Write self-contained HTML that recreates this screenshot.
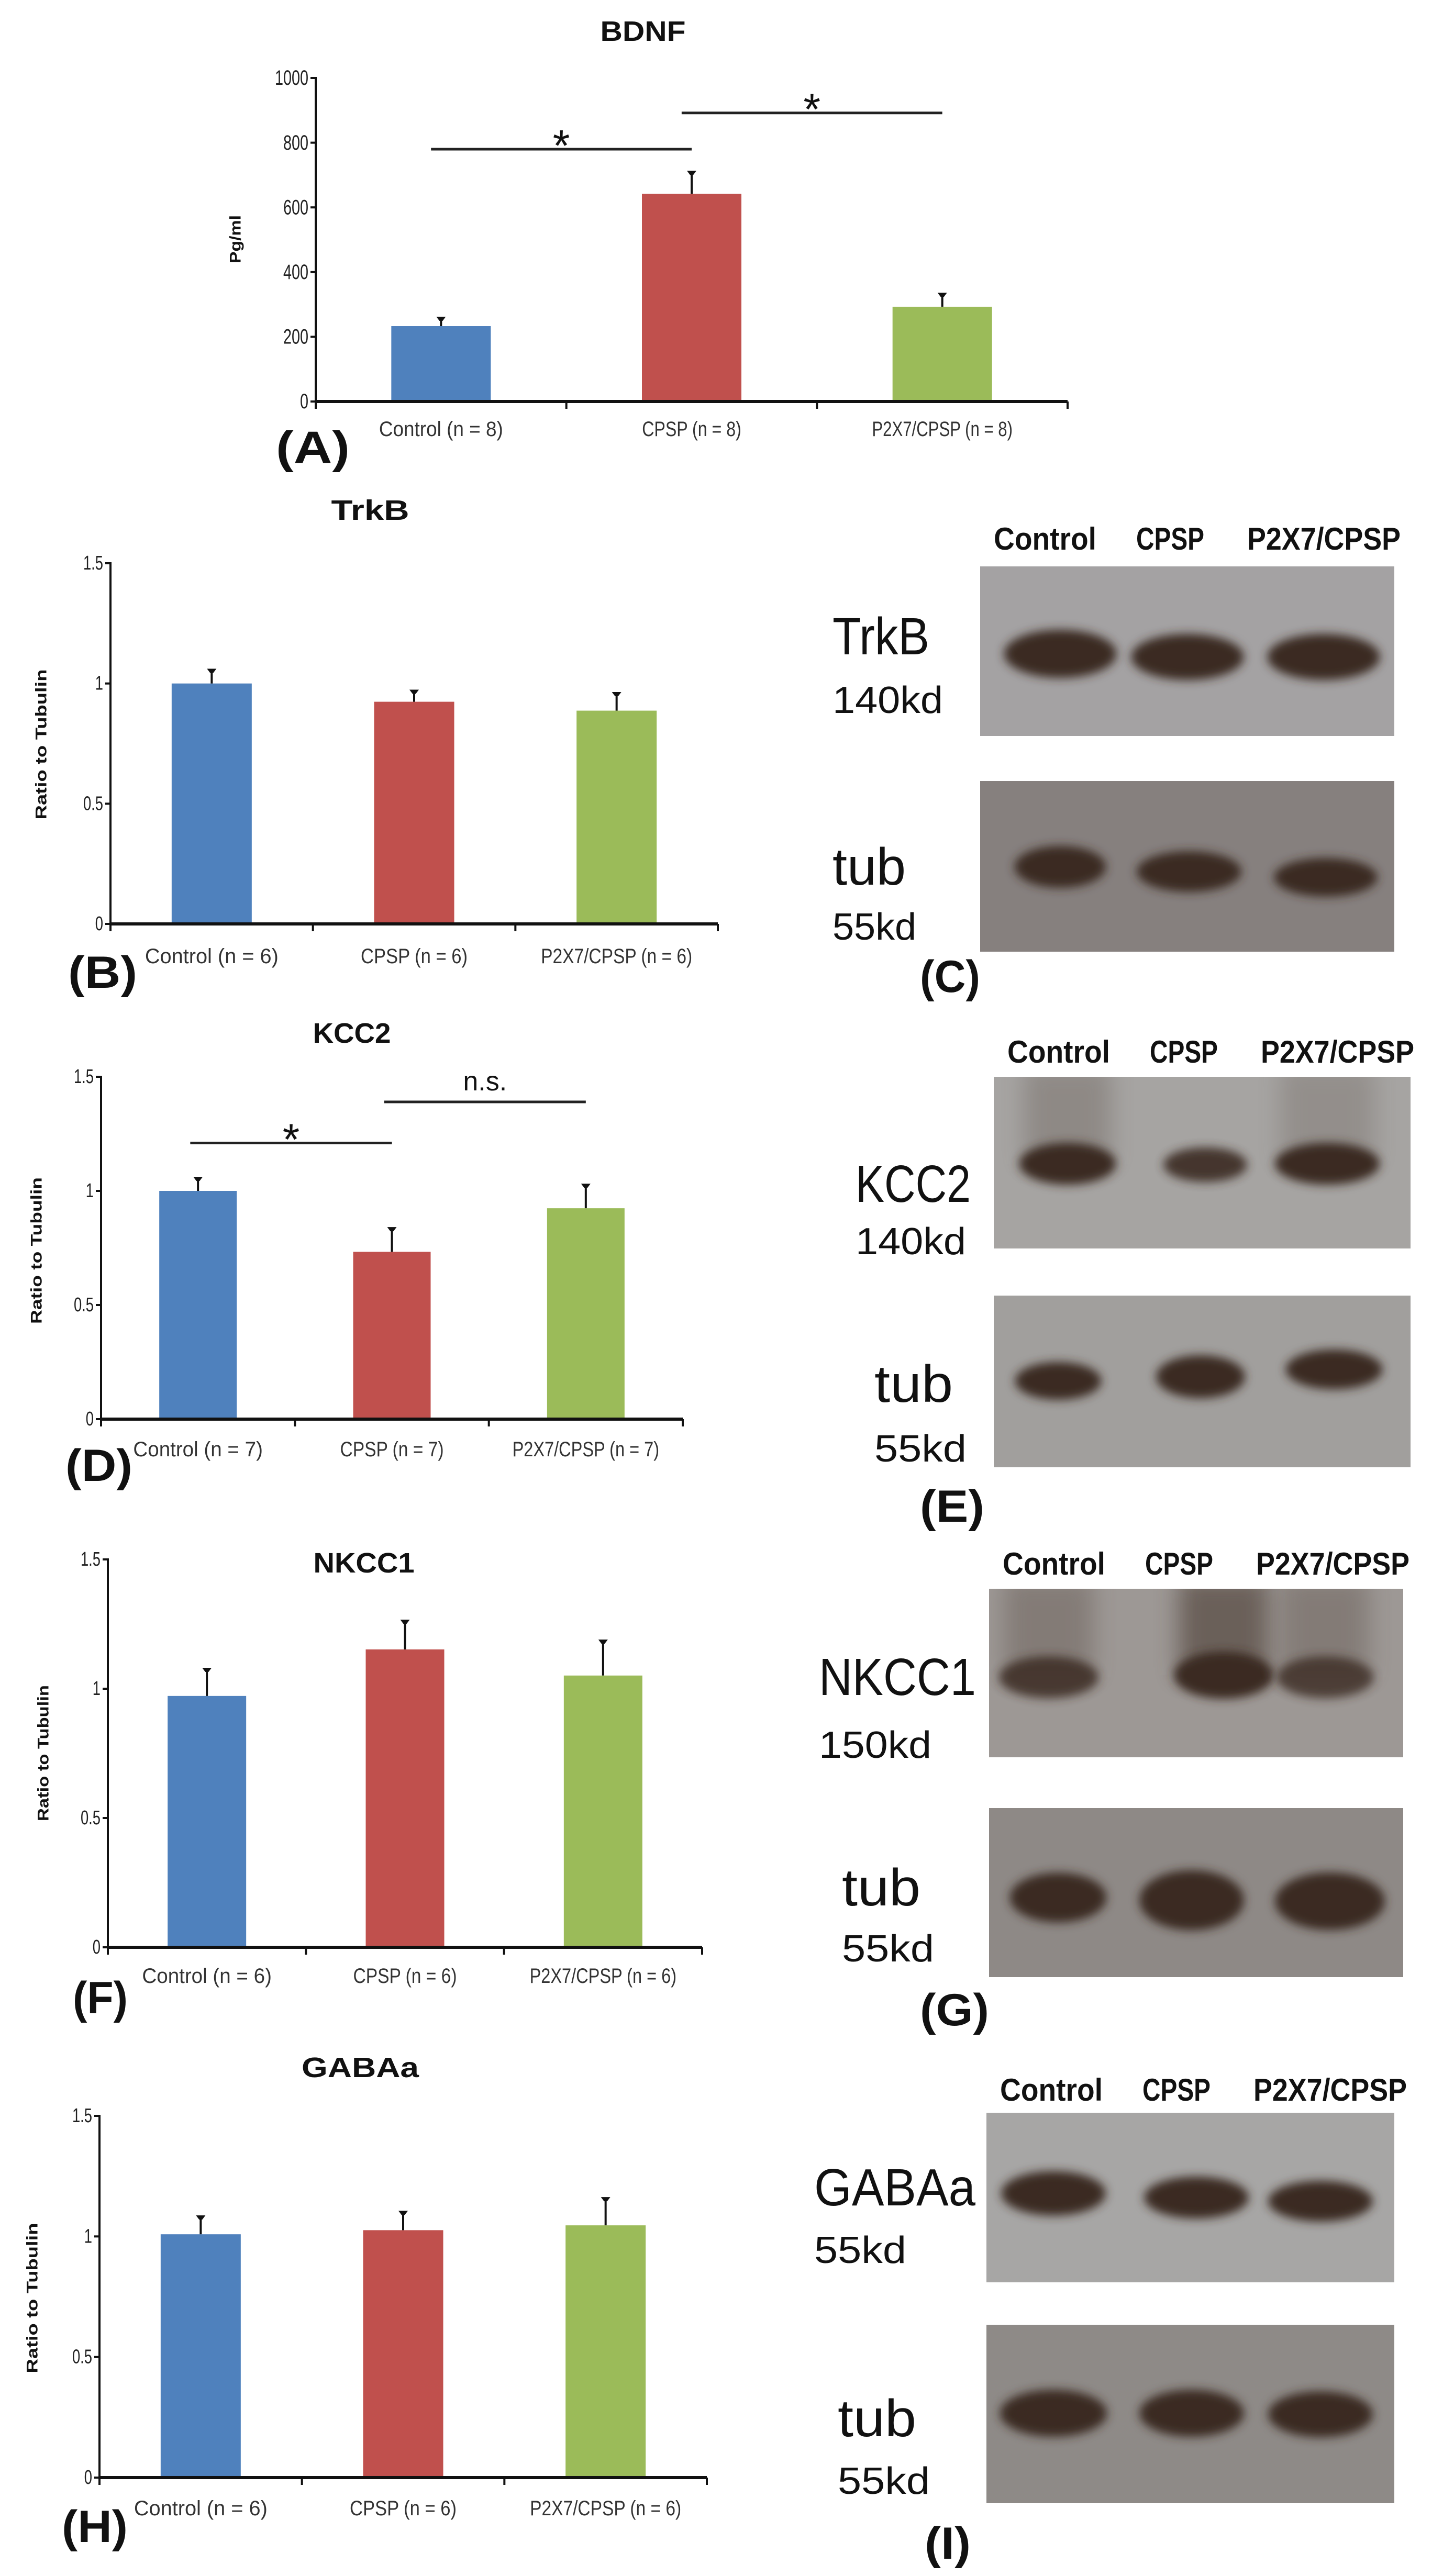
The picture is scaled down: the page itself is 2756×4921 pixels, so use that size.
<!DOCTYPE html>
<html><head><meta charset="utf-8">
<style>
html,body{margin:0;padding:0;background:#fff;}
svg{display:block;}
text{font-family:"Liberation Sans",sans-serif;}
</style></head>
<body>
<svg id="fig" xmlns="http://www.w3.org/2000/svg" width="2756" height="4921" viewBox="0 0 2756 4921">
<defs>
<filter id="blur1" x="-30%" y="-60%" width="160%" height="220%"><feGaussianBlur stdDeviation="9"/></filter>
<filter id="blur2" x="-30%" y="-60%" width="160%" height="220%"><feGaussianBlur stdDeviation="22"/></filter>
</defs>
<rect x="0" y="0" width="2756" height="4921" fill="#ffffff"/>
<g id="charts"></g>
<g id="blots"></g>
</svg>
<script>
// ---------- chart data ----------
const catsA = ["Control (n = 8)", "CPSP (n = 8)", "P2X7/CPSP (n = 8)"];
const valsA = [233, 642, 293];
const errsA = [26, 68, 40];
const ticksA = ["0", "200", "400", "600", "800", "1000"];

const catsB = ["Control (n = 6)", "CPSP (n = 6)", "P2X7/CPSP (n = 6)"];
const valsB = [1.0, 0.924, 0.887];
const errsB = [0.057, 0.046, 0.073];

const catsD = ["Control (n = 7)", "CPSP (n = 7)", "P2X7/CPSP (n = 7)"];
const valsD = [1.0, 0.733, 0.924];
const errsD = [0.057, 0.104, 0.103];

const catsF = ["Control (n = 6)", "CPSP (n = 6)", "P2X7/CPSP (n = 6)"];
const valsF = [0.972, 1.152, 1.051];
const errsF = [0.105, 0.111, 0.135];

const catsH = ["Control (n = 6)", "CPSP (n = 6)", "P2X7/CPSP (n = 6)"];
const valsH = [1.009, 1.026, 1.046];
const errsH = [0.074, 0.076, 0.113];

const ticksRatio = ["0", "0.5", "1", "1.5"];
const colors = ["#4f81bd", "#c0504d", "#9bbb59"];

const NS = "http://www.w3.org/2000/svg";
function mk(tag, attrs, parent) {
  const e = document.createElementNS(NS, tag);
  for (const k in attrs) e.setAttribute(k, attrs[k]);
  parent.appendChild(e);
  return e;
}
function txt(str, attrs, parent) {
  const e = mk("text", attrs, parent);
  e.textContent = str;
  return e;
}

const charts = document.getElementById("charts");

function drawChart(cfg) {
  const g = mk("g", {}, charts);
  
  
  const yMaxVal = parseFloat(cfg.ticks[cfg.ticks.length - 1]);
  const yScale = v => cfg.y0 - (v / yMaxVal) * (cfg.y0 - cfg.yTop);
  const n = cfg.cats.length;
  const cw = (cfg.x1 - cfg.x0) / n;
  const xCenter = i => cfg.x0 + cw * (i + 0.5);

  const t = txt(cfg.title, {x: cfg.titleX, y: cfg.titleY, "font-size": 54, "font-weight": "bold", "text-anchor": "middle", "dominant-baseline": "central", textLength: cfg.titleW, lengthAdjust: "spacingAndGlyphs", fill: "#111"}, g);
  
  

  const ya = mk("line", {x1: cfg.x0, y1: cfg.yTop - 2, x2: cfg.x0, y2: cfg.y0 + 14, stroke: "#111", "stroke-width": 4}, g);
  
  
  cfg.ticks.forEach((tk, i) => {
    const v = parseFloat(tk);
    const y = yScale(v);
    mk("line", {x1: cfg.x0 - 10, y1: y, x2: cfg.x0, y2: y, stroke: "#111", "stroke-width": 4}, g);
    const tl = txt(tk, {x: cfg.x0 - 14, y: y, "font-size": cfg.tickFont, "text-anchor": "end", "dominant-baseline": "central", fill: "#222", transform: `translate(${cfg.x0 - 14},0) scale(0.72,1) translate(${-(cfg.x0 - 14)},0)`}, g);
    
    
  });
  const yt = txt(cfg.yTitle, {x: cfg.yTitleX, y: cfg.yTitleY, "font-size": 30, "font-weight": "bold", "text-anchor": "middle", "dominant-baseline": "central", fill: "#111", transform: `rotate(-90 ${cfg.yTitleX} ${cfg.yTitleY})`, textLength: cfg.yTitleW, lengthAdjust: "spacingAndGlyphs"}, g);
  
  

  cfg.vals.forEach((v, i) => {
    const cx = xCenter(i);
    const yv = yScale(v);
    const b = mk("rect", {x: cx - cfg.bw / 2, y: yv, width: cfg.bw, height: cfg.y0 - yv, fill: colors[i]}, g);
    
    
    const ye = yScale(v + cfg.errs[i]);
    const e1 = mk("line", {x1: cx, y1: yv, x2: cx, y2: ye, stroke: "#111", "stroke-width": 4}, g);
    
    
    mk("path", {d: `M${cx - 9} ${ye - 2} L${cx + 9} ${ye - 2} L${cx + 3} ${ye + 6} L${cx - 3} ${ye + 6} Z`, fill: "#111"}, g);
    const cl = txt(cfg.cats[i], {x: cx, y: cfg.labelY, "font-size": 40, "text-anchor": "middle", "dominant-baseline": "central", fill: "#333", textLength: cfg.cats[i].length * cfg.charW, lengthAdjust: "spacingAndGlyphs"}, g);
    
    
  });

  const xa = mk("line", {x1: cfg.x0 - 2, y1: cfg.y0, x2: cfg.x1, y2: cfg.y0, stroke: "#111", "stroke-width": 6}, g);
  
  
  for (let i = 0; i <= n; i++) {
    const x = cfg.x0 + cw * i;
    mk("line", {x1: x, y1: cfg.y0, x2: x, y2: cfg.y0 + 14, stroke: "#111", "stroke-width": 4}, g);
  }

  (cfg.sig || []).forEach(s => {
    const ly = yScale(s.level);
    const sl = mk("line", {x1: xCenter(s.from) - cw * 0.04, y1: ly, x2: xCenter(s.to) + cw * 0.0, y2: ly, stroke: "#222", "stroke-width": 5}, g);
    
    
    const mx = (xCenter(s.from) + xCenter(s.to)) / 2 - cw * 0.02;
    const isStar = s.label === "*";
    const st = txt(s.label, {x: mx, y: isStar ? ly + 22 : ly - 22, "font-size": isStar ? 84 : 52, "text-anchor": "middle", fill: "#111"}, g);
    
    
  });

  const pl = txt(cfg.letter, {x: cfg.letterX, y: cfg.letterY, "font-size": 86, "font-weight": "bold", "dominant-baseline": "central", fill: "#111", textLength: cfg.letterW, lengthAdjust: "spacingAndGlyphs"}, g);
  
  
}

drawChart({name: "chart-bdnf", title: "BDNF", titleX: 1228, titleY: 60, titleW: 163,
  cats: catsA, vals: valsA, errs: errsA, ticks: ticksA, tickFont: 40,
  x0: 603, x1: 2039, y0: 767, yTop: 149, bw: 190, labelY: 820, charW: 15.8,
  yTitle: "Pg/ml", yTitleX: 450, yTitleY: 457, yTitleW: 92,
  sig: [{from: 0, to: 1, level: 780, label: "*"}, {from: 1, to: 2, level: 892, label: "*"}],
  letter: "(A)", letterX: 527, letterY: 855, letterW: 141});

drawChart({name: "chart-trkb", title: "TrkB", titleX: 707, titleY: 975, titleW: 149,
  cats: catsB, vals: valsB, errs: errsB, ticks: ticksRatio, tickFont: 38,
  x0: 211, x1: 1371, y0: 1765, yTop: 1076, bw: 153, labelY: 1827, charW: 17,
  yTitle: "Ratio to Tubulin", yTitleX: 79, yTitleY: 1422, yTitleW: 287,
  letter: "(B)", letterX: 130, letterY: 1858, letterW: 132});

drawChart({name: "chart-kcc2", title: "KCC2", titleX: 672, titleY: 1974, titleW: 149,
  cats: catsD, vals: valsD, errs: errsD, ticks: ticksRatio, tickFont: 38,
  x0: 193, x1: 1304, y0: 2711, yTop: 2057, bw: 148, labelY: 2769, charW: 16.5,
  yTitle: "Ratio to Tubulin", yTitleX: 70, yTitleY: 2389, yTitleW: 280,
  sig: [{from: 0, to: 1, level: 1.21, label: "*"}, {from: 1, to: 2, level: 1.39, label: "n.s."}],
  letter: "(D)", letterX: 125, letterY: 2800, letterW: 128});

drawChart({name: "chart-nkcc1", title: "NKCC1", titleX: 695, titleY: 2986, titleW: 193,
  cats: catsF, vals: valsF, errs: errsF, ticks: ticksRatio, tickFont: 38,
  x0: 206, x1: 1341, y0: 3720, yTop: 2979, bw: 150, labelY: 3775, charW: 16.5,
  yTitle: "Ratio to Tubulin", yTitleX: 83, yTitleY: 3349, yTitleW: 260,
  letter: "(F)", letterX: 139, letterY: 3817, letterW: 105});

drawChart({name: "chart-gabaa", title: "GABAa", titleX: 688, titleY: 3950, titleW: 224,
  cats: catsH, vals: valsH, errs: errsH, ticks: ticksRatio, tickFont: 38,
  x0: 190, x1: 1350, y0: 4733, yTop: 4042, bw: 153, labelY: 4792, charW: 17,
  yTitle: "Ratio to Tubulin", yTitleX: 62, yTitleY: 4390, yTitleW: 287,
  letter: "(H)", letterX: 118, letterY: 4827, letterW: 126});

// ---------- western blots ----------
const blotsG = document.getElementById("blots");
function drawBlot(cfg) {
  const g = mk("g", {}, blotsG);
  
  
  const hdr = [["Control", 26, 196], ["CPSP", 298, 130], ["P2X7/CPSP", 510, 293]];
  hdr.forEach(h => {
    const t = txt(h[0], {x: cfg.bx + h[1], y: cfg.hy, "font-size": 60, "font-weight": "bold", fill: "#111", textLength: h[2], lengthAdjust: "spacingAndGlyphs"}, g);
    
    
  });
  cfg.boxes.forEach((b, bi) => {
    const r = mk("rect", {x: cfg.bx, y: b.y, width: cfg.bw, height: b.h, fill: b.fill}, g);
    
    
    const clip = mk("clipPath", {id: cfg.name + "c" + bi}, g);
    mk("rect", {x: cfg.bx, y: b.y, width: cfg.bw, height: b.h}, clip);
    const bg = mk("g", {"clip-path": `url(#${cfg.name}c${bi})`}, g);
    b.bands.forEach(bd => {
      if (bd.smear) {
        mk("rect", {x: bd.x - bd.w * 0.45, y: b.y - 20, width: bd.w * 0.9, height: bd.y - b.y + 20, fill: "#4a3a33", opacity: bd.smear, filter: "url(#blur2)"}, bg);
      }
      const e = mk("ellipse", {cx: bd.x, cy: bd.y, rx: bd.w / 2, ry: bd.h / 2, fill: "#3b2a24", opacity: bd.o || 1, filter: "url(#blur1)"}, bg);
      
      
    });
    const l1 = txt(b.label, {x: b.lx, y: b.ly, "font-size": 100, fill: "#111", textLength: b.lw, lengthAdjust: "spacingAndGlyphs"}, g);
    
    
    const l2 = txt(b.kd, {x: b.kx, y: b.ky, "font-size": 72, fill: "#111", textLength: b.kw, lengthAdjust: "spacingAndGlyphs"}, g);
    
    
  });
  const pl = txt(cfg.letter, {x: cfg.lx, y: cfg.ly, "font-size": 86, "font-weight": "bold", "dominant-baseline": "central", fill: "#111", textLength: cfg.lw, lengthAdjust: "spacingAndGlyphs"}, g);
  
  
}

drawBlot({name: "blot-trkb", bx: 1872, bw: 791, hy: 1050, letter: "(C)", lx: 1757, ly: 1866, lw: 115,
  boxes: [
    {y: 1082, h: 324, fill: "#a4a2a3", label: "TrkB", lx: 1590, ly: 1250, lw: 185, kd: "140kd", kx: 1590, ky: 1362, kw: 211,
     bands: [{x: 2025, y: 1249, w: 215, h: 92}, {x: 2268, y: 1255, w: 215, h: 88}, {x: 2528, y: 1255, w: 215, h: 88}]},
    {y: 1492, h: 326, fill: "#86807e", label: "tub", lx: 1590, ly: 1690, lw: 140, kd: "55kd", kx: 1590, ky: 1795, kw: 160,
     bands: [{x: 2025, y: 1656, w: 175, h: 80}, {x: 2271, y: 1665, w: 200, h: 78}, {x: 2532, y: 1676, w: 198, h: 74}]}
  ]});

drawBlot({name: "blot-kcc2", bx: 1898, bw: 796, hy: 2030, letter: "(E)", lx: 1757, ly: 2878, lw: 123,
  boxes: [
    {y: 2057, h: 328, fill: "#a6a4a2", label: "KCC2", lx: 1634, ly: 2296, lw: 220, kd: "140kd", kx: 1634, ky: 2396, kw: 211,
     bands: [{x: 2039, y: 2223, w: 185, h: 80, smear: 0.25}, {x: 2302, y: 2225, w: 160, h: 66, o: 0.9}, {x: 2535, y: 2223, w: 200, h: 80, smear: 0.2}]},
    {y: 2475, h: 328, fill: "#a19f9d", label: "tub", lx: 1670, ly: 2678, lw: 150, kd: "55kd", kx: 1670, ky: 2792, kw: 176,
     bands: [{x: 2021, y: 2638, w: 165, h: 72}, {x: 2293, y: 2630, w: 170, h: 82}, {x: 2548, y: 2616, w: 185, h: 76}]}
  ]});

drawBlot({name: "blot-nkcc1", bx: 1889, bw: 791, hy: 3008, letter: "(G)", lx: 1757, ly: 3840, lw: 132,
  boxes: [
    {y: 3035, h: 322, fill: "#9d9895", label: "NKCC1", lx: 1564, ly: 3238, lw: 300, kd: "150kd", kx: 1564, ky: 3358, kw: 215,
     bands: [{x: 2003, y: 3204, w: 190, h: 80, o: 0.85, smear: 0.3}, {x: 2337, y: 3200, w: 190, h: 90, smear: 0.6}, {x: 2531, y: 3204, w: 185, h: 80, o: 0.8, smear: 0.3}]},
    {y: 3454, h: 323, fill: "#8e8986", label: "tub", lx: 1608, ly: 3640, lw: 150, kd: "55kd", kx: 1608, ky: 3747, kw: 176,
     bands: [{x: 2021, y: 3625, w: 185, h: 95}, {x: 2276, y: 3630, w: 200, h: 115}, {x: 2540, y: 3632, w: 210, h: 110}]}
  ]});

drawBlot({name: "blot-gabaa", bx: 1884, bw: 779, hy: 4013, letter: "(I)", lx: 1766, ly: 4859, lw: 88,
  boxes: [
    {y: 4036, h: 324, fill: "#a7a6a5", label: "GABAa", lx: 1555, ly: 4213, lw: 308, kd: "55kd", kx: 1555, ky: 4323, kw: 176,
     bands: [{x: 2012, y: 4190, w: 200, h: 85}, {x: 2285, y: 4198, w: 200, h: 80}, {x: 2522, y: 4205, w: 200, h: 78}]},
    {y: 4441, h: 341, fill: "#8e8a87", label: "tub", lx: 1600, ly: 4654, lw: 150, kd: "55kd", kx: 1600, ky: 4764, kw: 176,
     bands: [{x: 2012, y: 4610, w: 205, h: 90}, {x: 2276, y: 4610, w: 200, h: 90}, {x: 2522, y: 4612, w: 200, h: 88}]}
  ]});
</script>
</body></html>
